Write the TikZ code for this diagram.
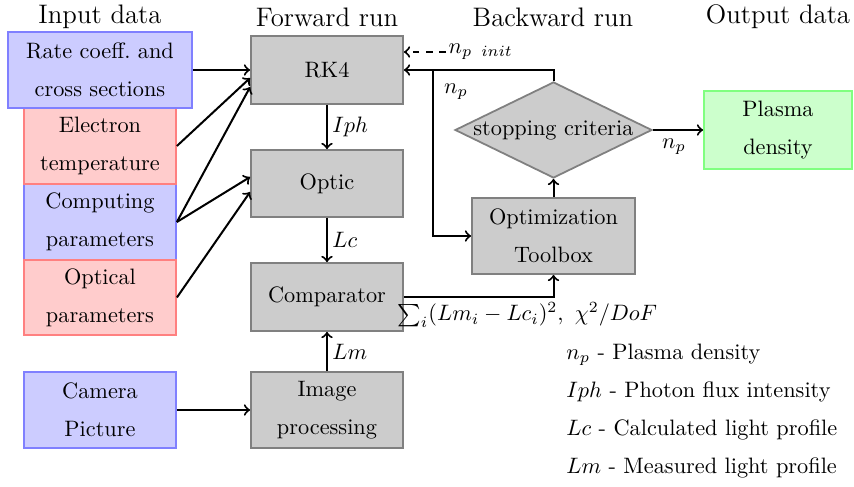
\documentclass[tikz,border=0pt]{standalone}
\usetikzlibrary{shapes.geometric,calc}
\newdimen\px \px=0.4484pt
\tikzset{
  x=0.4484pt, y=-0.4484pt,
  inbox/.style={draw=blue!50, fill=blue!20, thick, align=center, inner sep=0pt, minimum width=152\px, minimum height=76\px},
  redbox/.style={draw=red!50, fill=red!20, thick, align=center, inner sep=0pt, minimum width=152\px, minimum height=76\px},
  procbox/.style={draw=gray, fill=gray!40, thick, align=center, inner sep=0pt, minimum width=152\px, minimum height=68\px},
  outbox/.style={draw=green!50, fill=green!20, thick, align=center, inner sep=0pt, minimum width=148\px, minimum height=78\px},
  title/.style={font=\large},
  conn/.style={->, line width=0.9pt},
  lbl/.style={inner sep=2pt},
  legend/.style={anchor=west, inner sep=0pt}
}
\begin{document}
\begin{tikzpicture}
\useasboundingbox (0,0) rectangle (854,487);
% titles
\node[title] (t1) at (100,17) {Input data};
\node[title] (t2) at (327,17) {Forward run};
\node[title] (t3) at (553,17) {Backward run};
\node[title] (t4) at (778,17) {Output data};
% input boxes
\node[inbox] (comp) at (100,222) {Computing\\[5pt]parameters};
\node[redbox, minimum height=75\px] (optp) at (100,297.5) {Optical\\[5pt]parameters};
\node[redbox] (elec) at (100,146) {Electron\\[5pt]temperature};
\node[inbox, minimum width=184\px] (rate) at (100,70) {Rate coeff.\ and\\[5pt]cross sections};
\node[inbox] (cam) at (100,410) {Camera\\[5pt]Picture};
% forward
\node[procbox] (rk4) at (327,70) {RK4};
\node[procbox, minimum height=67\px] (optic) at (327,183.5) {Optic};
\node[procbox, minimum height=68\px] (compar) at (327,297) {Comparator};
\node[procbox, minimum height=76\px] (img) at (327,410) {Image\\[5pt]processing};
% backward
\node[diamond, draw=gray, fill=gray!40, thick, inner sep=0pt, minimum width=197\px, minimum height=96\px] (stop) at (553.5,130) {\makebox[0pt]{stopping criteria}};
\node[procbox, minimum width=163\px, minimum height=76\px] (tool) at (553.5,236) {Optimization\\[5pt]Toolbox};
% output
\node[outbox] (plasma) at (778,130) {Plasma\\[5pt]density};
% input connectors
\draw[conn] (rate.east) -- (rk4.west);
\draw[conn] (elec.east) -- ($(rk4.west)+(0,8)$);
\draw[conn] (comp.east) -- ($(rk4.west)+(0,17)$);
\draw[conn] (comp.east) -- ($(optic.west)+(0,-6.5)$);
\draw[conn] (optp.east) -- ($(optic.west)+(0,8.5)$);
\draw[conn] (cam.east) -- (img.west);
% forward chain
\draw[conn] (rk4.south) -- node[lbl, right] {$Iph$} (optic.north);
\draw[conn] (optic.south) -- node[lbl, right] {$Lc$} (compar.north);
\draw[conn] (img.north) -- node[lbl, right] {$Lm$} (compar.south);
% backward
\draw[conn] (compar.east) -| (tool.south);
\node[anchor=west, inner sep=0pt] (sum) at (397,315) {$\sum_i(Lm_i-Lc_i)^2,\ \chi^2/DoF$};
\draw[conn] (tool.north) -- (stop.south);
\draw[conn] (stop.north) -- (stop.north |- rk4.east) -- (rk4.east);
\coordinate (br) at (433,70);
\draw[conn] (br) |- (tool.west);
\node (np1) at (456,92) {$n_p$};
\node[inner sep=1pt, anchor=west] (npinit) at (446,52) {$n_{p\hspace{4.5pt}init}$};
\draw[conn, dashed] (npinit.west) -- (rk4.east |- npinit.west);
\draw[conn] (stop.east) -- node[below, xshift=-4\px] {$n_p$} (plasma.west);
% legend
\node[legend] (l1) at (566,355) {$n_p$ - Plasma density};
\node[legend] (l2) at (566,392) {$Iph$ - Photon flux intensity};
\node[legend] (l3) at (566,430) {$Lc$ - Calculated light profile};
\node[legend] (l4) at (566,468) {$Lm$ - Measured light profile};
\end{tikzpicture}
\end{document}
